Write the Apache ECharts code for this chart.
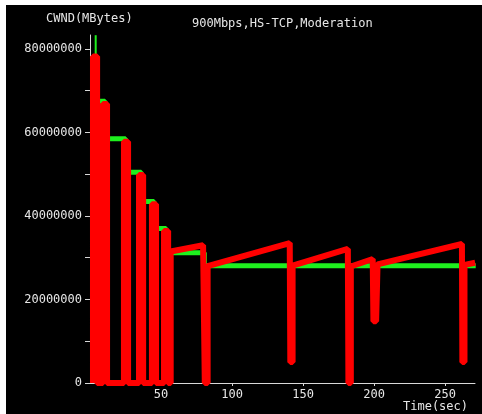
<!DOCTYPE html>
<html>
<head>
<meta charset="utf-8">
<script src="https://cdn.jsdelivr.net/npm/echarts@6/dist/echarts.min.js"></script>
<style>
    html, body { margin: 0; padding: 0; background: #fff; }
    #chart { position: absolute; left: 6px; top: 5px; width: 476px; height: 409px; background: #000; }
</style>
</head>
<body>
<div id="chart"></div>
<script>
// cwnd trace (red), time in sec / value in MBytes*1e6
var cwndT = [2.1, 2.1, 5.0, 5.0, 9.1, 9.1, 12.0, 12.0, 23.9, 23.9, 26.8, 26.8,
    34.5, 34.5, 37.4, 37.4, 43.6, 43.6, 46.5, 46.5, 52.1, 52.1, 55.0, 55.0,
    56.8, 56.8, 79.6, 80.8, 80.8, 82.8, 82.8, 140.6, 141.0, 141.0, 142.6, 142.6,
    181.5, 181.9, 181.9, 183.6, 183.6, 199.0, 199.5, 199.5, 201.4, 202.4,
    261.8, 262.1, 262.1, 263.6, 263.6, 271.1];
var cwndV = [0, 78.2, 78.2, 0, 0, 66.8, 66.8, 0, 0, 57.8, 57.8, 0,
    0, 49.8, 49.8, 0, 0, 42.8, 42.8, 0, 0, 36.4, 36.4, 0,
    0, 31.5, 33.0, 33.0, 0, 0, 28.0, 33.5, 33.5, 5.0, 5.0, 28.1,
    32.1, 32.1, 0, 0, 27.9, 29.7, 29.7, 14.8, 14.8, 28.4,
    33.3, 33.3, 5.0, 5.0, 28.3, 28.8];

// ssthresh trace (green)
var ssthT = [4, 10.5, 10.5, 25, 25, 36, 36, 45, 45, 53.5, 53.5, 80.5, 80.5, 271.5];
var ssthV = [67.5, 67.5, 58.5, 58.5, 50.5, 50.5, 43.5, 43.5, 37, 37, 31.2, 31.2, 28.1, 28.1];
var spikeT = [4, 4];
var spikeV = [83.3, 78];

var xTicks = [50, 100, 150, 200, 250];
var yTicks = [0, 10000000, 20000000, 30000000, 40000000, 50000000, 60000000, 70000000, 80000000];
var yLabels = [0, 20000000, 40000000, 60000000, 80000000];

function pairs(t, v) {
    return t.map(function (x, i) { return [x, v[i] * 1e6]; });
}

var font = 'DejaVu Sans Mono';
var fg = '#e6e6e6';

var chart = echarts.init(document.getElementById('chart'));
chart.setOption({
    animation: false,
    backgroundColor: '#000',
    grid: { left: 84, right: 7, top: 30, bottom: 31 },
    graphic: [
        { type: 'text', left: 40, top: 8, style: { text: 'CWND(MBytes)', fill: fg, font: '12px ' + font } },
        { type: 'text', left: 186, top: 13, style: { text: '900Mbps,HS-TCP,Moderation', fill: fg, font: '12px ' + font } },
        { type: 'text', left: 397, top: 396, style: { text: 'Time(sec)', fill: fg, font: '12px ' + font } }
    ],
    xAxis: {
        type: 'value',
        min: 0,
        max: 271,
        splitLine: { show: false },
        axisLine: { onZero: false, lineStyle: { color: '#d8d8d8', width: 1 } },
        axisTick: { show: true, length: 3, customValues: xTicks, lineStyle: { color: '#d8d8d8' } },
        axisLabel: { customValues: xTicks, color: fg, fontFamily: font, fontSize: 12, margin: 6,
            formatter: function (v) { return String(v); } }
    },
    yAxis: {
        type: 'value',
        min: 0,
        max: 83350000,
        splitLine: { show: false },
        axisLine: { show: true, lineStyle: { color: '#d8d8d8', width: 1 } },
        axisTick: { show: true, length: 5, customValues: yTicks, lineStyle: { color: '#d8d8d8' } },
        axisLabel: { customValues: yLabels, color: fg, fontFamily: font, fontSize: 12, margin: 8,
            formatter: function (v) { return String(v); } }
    },
    series: [
        {
            type: 'line',
            data: pairs(ssthT, ssthV),
            showSymbol: false,
            lineStyle: { color: '#1ef01e', width: 5 },
            z: 2
        },
        {
            type: 'line',
            data: pairs(spikeT, spikeV),
            showSymbol: false,
            lineStyle: { color: '#1ef01e', width: 2 },
            z: 2
        },
        {
            type: 'line',
            data: pairs(cwndT, cwndV),
            showSymbol: false,
            lineStyle: { color: '#ff0000', width: 6 },
            z: 3
        }
    ]
});
</script>
</body>
</html>
